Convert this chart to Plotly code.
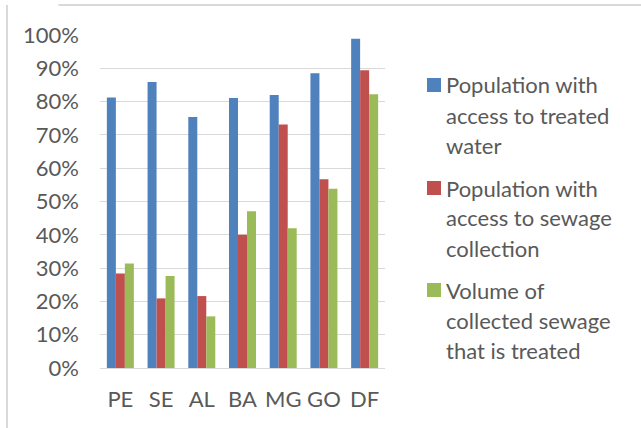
import plotly.graph_objects as go

# States and coverage indicators (fraction of population / volume)
states = ["PE", "SE", "AL", "BA", "MG", "GO", "DF"]
treated_water = [0.812, 0.859, 0.754, 0.811, 0.820, 0.885, 0.989]
sewage_collection = [0.284, 0.209, 0.216, 0.400, 0.731, 0.567, 0.894]
sewage_treated = [0.314, 0.276, 0.155, 0.471, 0.420, 0.538, 0.822]

series_names = [
    ["Population with", "access to treated", "water"],
    ["Population with", "access to sewage", "collection"],
    ["Volume of", "collected sewage", "that is treated"],
]
series_values = [treated_water, sewage_collection, sewage_treated]
colors = ["#4F81BD", "#C0504D", "#9BBB59"]

FONT = "Lato"
FS = 22
TEXT = "#595959"
GRID = "#D9D9D9"

fig = go.Figure()
for name, vals, col in zip(series_names, series_values, colors):
    fig.add_trace(go.Bar(
        x=states, y=vals, name=" ".join(name),
        marker=dict(color=col, line=dict(width=0)),
        showlegend=False,
    ))

# Legend drawn as swatches plus one text line per row
shapes = [
    # frame: top and left edges
    dict(type="line", xref="paper", yref="paper", x0=-0.146, x1=1.0 + 256 / 285,
         y0=1 + 30 / 333, y1=1 + 30 / 333, line=dict(color=GRID, width=2)),
    dict(type="line", xref="paper", yref="paper", x0=-93 / 285, x1=-93 / 285,
         y0=1 + 30 / 333, y1=-60 / 333, line=dict(color=GRID, width=2)),
]
annotations = []
item_top = [85, 188, 290]  # pixel centre of each item's first line
for lines, col, top in zip(series_names, colors, item_top):
    cy = top
    shapes.append(dict(
        type="rect", xref="paper", yref="paper",
        x0=(427 - 100) / 285, x1=(441 - 100) / 285,
        y0=(368 - (cy + 7)) / 333, y1=(368 - (cy - 7)) / 333,
        fillcolor=col, line=dict(width=0),
    ))
    for i, ln in enumerate(lines):
        y = cy + 30 * i
        annotations.append(dict(
            text=ln, xref="paper", yref="paper",
            x=(444 - 100) / 285, y=(368 - y) / 333,
            xanchor="left", yanchor="middle", showarrow=False,
            font=dict(family=FONT, size=FS, color=TEXT),
        ))

fig.update_layout(
    width=641, height=428,
    margin=dict(l=100, r=256, t=35, b=60),
    paper_bgcolor="white", plot_bgcolor="white",
    barmode="group", bargap=0.337, bargroupgap=0,
    font=dict(family=FONT, size=FS, color=TEXT),
    shapes=shapes, annotations=annotations,
    xaxis=dict(
        showgrid=False, showline=True, linecolor=GRID, linewidth=1,
        ticks="", tickfont=dict(size=FS, color=TEXT),
        ticklabelstandoff=12, fixedrange=True,
    ),
    yaxis=dict(
        range=[0, 1.0], dtick=0.1, tickformat=".0%",
        showgrid=True, gridcolor=GRID, gridwidth=1, zeroline=False,
        showline=False, ticks="", tickfont=dict(size=FS, color=TEXT),
        ticklabelstandoff=20, fixedrange=True,
    ),
)

fig.write_html("out.html")
